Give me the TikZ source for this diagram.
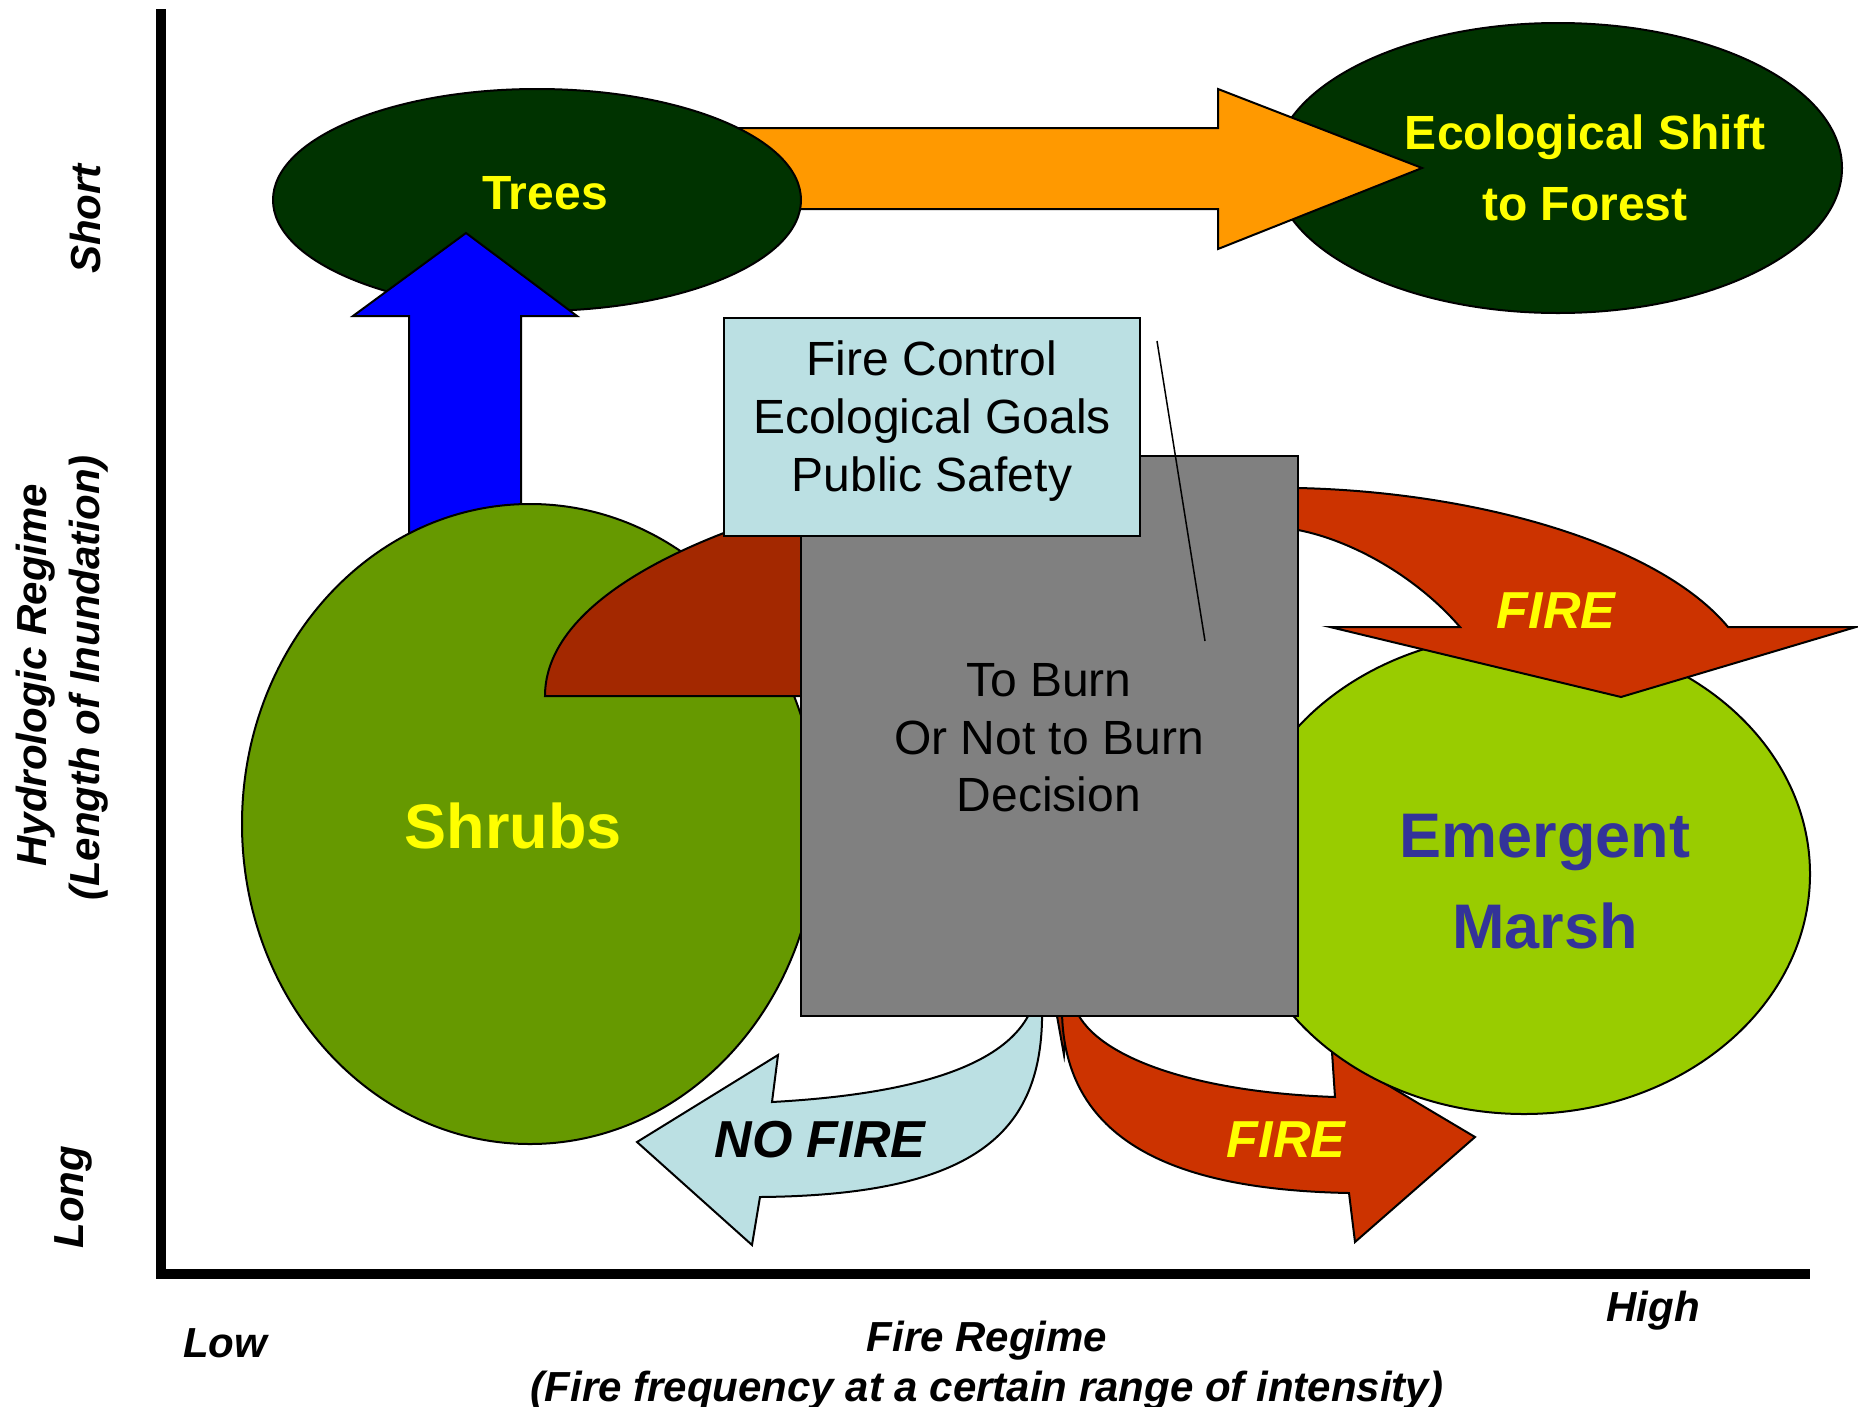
\documentclass[tikz,border=0pt]{standalone}
\usepackage{fontspec}
\setmainfont{Liberation Sans}
\usetikzlibrary{shapes.geometric}
\definecolor{treegreen}{HTML}{003300}
\definecolor{shrubgreen}{HTML}{669900}
\definecolor{marshgreen}{HTML}{99CC00}
\definecolor{fireorange}{HTML}{FF9900}
\definecolor{firered}{HTML}{CC3300}
\definecolor{darkfire}{HTML}{A32800}
\definecolor{paleblue}{HTML}{BBE0E3}
\definecolor{boxgray}{HTML}{808080}
\definecolor{marshtext}{HTML}{333399}
\definecolor{labelyellow}{HTML}{FFFF00}
\begin{document}
\begin{tikzpicture}[x=1pt,y=-1pt,
  outline/.style={draw=black, line width=2pt, line join=miter},
  blob/.style={ellipse, outline, inner sep=0pt},
  panel/.style={rectangle, outline, inner sep=0pt},
  axislabel/.style={font=\fontsize{42}{48}\selectfont\bfseries\itshape, inner sep=0pt},
  titletext/.style={font=\fontsize{48}{71}\selectfont\bfseries, text=labelyellow, align=center, inner sep=0pt},
  habitat/.style={font=\fontsize{63}{91}\selectfont\bfseries, align=center, inner sep=0pt},
  boxtext/.style={font=\fontsize{48}{57.6}\selectfont, align=center, inner sep=0pt},
  firetext/.style={font=\fontsize{52}{60}\selectfont\bfseries\itshape, inner sep=0pt}
]
\useasboundingbox[fill=white] (0,0) rectangle (1858,1406);

% axes
\coordinate (yTop) at (161,9);
\coordinate (origin) at (161,1274);
\coordinate (xEnd) at (1810,1274);
\draw[line width=10pt] (yTop) -- (origin) -- (xEnd);

% forest ellipse and the shift arrow leading into it
\node[blob, fill=treegreen, minimum width=568pt, minimum height=290pt] (forest) at (1558,168) {};
\fill[fireorange, outline] (700,128) -- (1218,128) -- (1218,89) -- (1422,168)
  -- (1218,249) -- (1218,209) -- (700,209) -- cycle;
\node[blob, fill=treegreen, minimum width=528pt, minimum height=222pt] (trees) at (537,200) {};

% shrubs grow up into trees
\fill[blue, outline] (409,600) -- (409,316) -- (353,316) -- (466,233) -- (577,316)
  -- (521,316) -- (521,600) -- cycle;
\node[blob, fill=shrubgreen, minimum width=576pt, minimum height=640pt] (shrubs) at (530,824) {};

% FIRE arrow bending down towards the marsh (behind the marsh)
\fill[darkfire, outline] (1055,1005) -- (1068,1005) -- (1064,1055) -- cycle;
\fill[firered, outline] (1062,1005) .. controls (1060,1150) and (1190,1190) .. (1349,1193)
  -- (1355,1242) -- (1475,1137) -- (1332,1052) -- (1335,1097)
  .. controls (1190,1092) and (1090,1055) .. (1074,1005) -- cycle;
\node[blob, fill=marshgreen, minimum width=572pt, minimum height=480pt] (marsh) at (1524,874) {};

% NO FIRE arrow back towards the shrubs
\fill[paleblue, outline] (1022,1005) -- (1033,1005) -- (1031,1026) -- cycle;
\fill[paleblue, outline] (1033,1005) .. controls (1010,1070) and (900,1095) .. (772,1102)
  -- (778,1055) -- (637,1142) -- (752,1245) -- (760,1197)
  .. controls (980,1195) and (1045,1130) .. (1042,1005) -- cycle;

% upper FIRE arrow from the decision box into the marsh
\fill[firered, outline] (1280,488) -- (1298,488) .. controls (1480,492) and (1660,545) .. (1728,627)
  -- (1856,627) -- (1621,697) -- (1330,627) -- (1460,627)
  .. controls (1415,575) and (1350,540) .. (1298,530) -- (1280,530) -- cycle;

% curved arrow leaving the shrubs
\fill[darkfire, outline] (545,696) .. controls (545,620) and (640,560) .. (760,520)
  -- (801,510) -- (801,696) -- cycle;

% decision boxes
\node[panel, fill=boxgray, minimum width=497pt, minimum height=560pt] (decision) at (1049.5,736) {};
\node[panel, fill=paleblue, minimum width=416pt, minimum height=218pt] (factors) at (932,427) {};
\coordinate (leaderTop) at (1157,341);
\coordinate (leaderEnd) at (1205,641);
\draw[line width=1.5pt] (leaderTop) -- (leaderEnd);

% texts
\node[titletext] (treesText) at (545,193) {Trees};
\node[titletext] (forestText) at (1585,168) {Ecological Shift\\to Forest};
\node[habitat, text=labelyellow] (shrubsText) at (513,826) {Shrubs};
\node[habitat, text=marshtext] (marshText) at (1545,882) {Emergent\\Marsh};
\node[boxtext] (factorsText) at (932,421) {Fire Control\\Ecological Goals\\Public Safety};
\node[boxtext] (decisionText) at (1049,738) {To Burn\\Or Not to Burn\\Decision};
\node[firetext, text=labelyellow] (fireTopText) at (1556,611) {FIRE};
\node[firetext, text=labelyellow] (fireLowText) at (1286,1140) {FIRE};
\node[firetext, text=black] (noFireText) at (820,1140) {NO FIRE};

% axis labels
\node[axislabel, rotate=90] (shortLbl) at (85,219) {Short};
\node[axislabel, rotate=90] (hydroLbl) at (36,675) {Hydrologic Regime};
\node[axislabel, rotate=90] (inundLbl) at (89,678) {(Length of Inundation)};
\node[axislabel, rotate=90] (longLbl) at (73,1197) {Long};
\node[axislabel] (lowLbl) at (225,1343) {Low};
\node[axislabel] (fireRegLbl) at (987,1341) {Fire Regime};
\node[axislabel] (freqLbl) at (987,1391) {(Fire frequency at a certain range of intensity)};
\node[axislabel] (highLbl) at (1653,1311) {High};
\end{tikzpicture}
\end{document}
